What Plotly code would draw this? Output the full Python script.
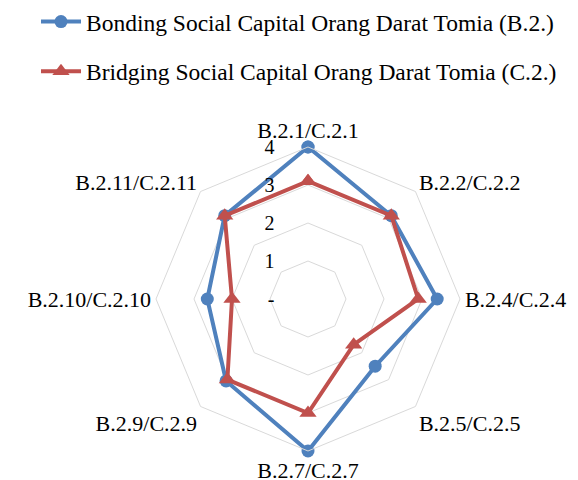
import plotly.graph_objects as go

categories = ["B.2.1/C.2.1", "B.2.2/C.2.2", "B.2.4/C.2.4", "B.2.5/C.2.5",
              "B.2.7/C.2.7", "B.2.9/C.2.9", "B.2.10/C.2.10", "B.2.11/C.2.11"]
bonding = [4.0, 3.1, 3.4, 2.5, 4.0, 3.05, 2.65, 3.1]
bridging = [3.1, 3.1, 2.9, 1.7, 3.0, 3.0, 2.0, 3.1]
tick_vals = [0, 1, 2, 3, 4]
tick_text = ["-", "1", "2", "3", "4"]

font_family = "Liberation Serif, Times New Roman, serif"
pad = "\u2007" * 2 + "\u00a0" * 2

fig = go.Figure()
fig.add_trace(go.Scatterpolar(
    r=bonding + bonding[:1], theta=categories + categories[:1],
    name="Bonding Social Capital Orang Darat Tomia (B.2.)",
    mode="lines+markers", legendgroup="a",
    line=dict(color="#4F81BD", width=4),
    marker=dict(symbol="circle", size=13, color="#4F81BD"),
))
fig.add_trace(go.Scatterpolar(
    r=bridging + bridging[:1], theta=categories + categories[:1],
    name="Bridging Social Capital Orang Darat Tomia (C.2.)",
    mode="lines+markers", legendgroup="b",
    line=dict(color="#C0504D", width=4),
    marker=dict(symbol="triangle-up", size=15, color="#C0504D"),
))

W, H = 578, 480
cx, cy, R = 300, 291, 152
fig.update_layout(
    width=W, height=H,
    margin=dict(l=0, r=0, t=0, b=0, autoexpand=False),
    paper_bgcolor="white", plot_bgcolor="white",
    font=dict(family=font_family, color="black"),
    showlegend=True,
    legend=dict(
        x=28 / W, y=1.017, xanchor="left", yanchor="top",
        font=dict(size=23.5, family=font_family),
        traceorder="grouped", tracegroupgap=16,
        itemwidth=40, bgcolor="rgba(0,0,0,0)",
    ),
    polar=dict(
        domain=dict(x=[(cx - R) / W, (cx + R) / W],
                    y=[(H - cy - R) / H, (H - cy + R) / H]),
        gridshape="linear",
        bgcolor="white",
        angularaxis=dict(
            rotation=90, direction="clockwise",
            showgrid=False, showline=True, linecolor="#d9d9d9", linewidth=1,
            ticks="", tickfont=dict(size=22, family=font_family),
        ),
        radialaxis=dict(
            range=[0, 4], tickvals=tick_vals,
            ticktext=[t + pad for t in tick_text],
            angle=90, side="counterclockwise", tickangle=90,
            showline=False, ticks="",
            gridcolor="#d9d9d9", gridwidth=1,
            tickfont=dict(size=20, family=font_family),
        ),
    ),
)

fig.write_html("out.html")
